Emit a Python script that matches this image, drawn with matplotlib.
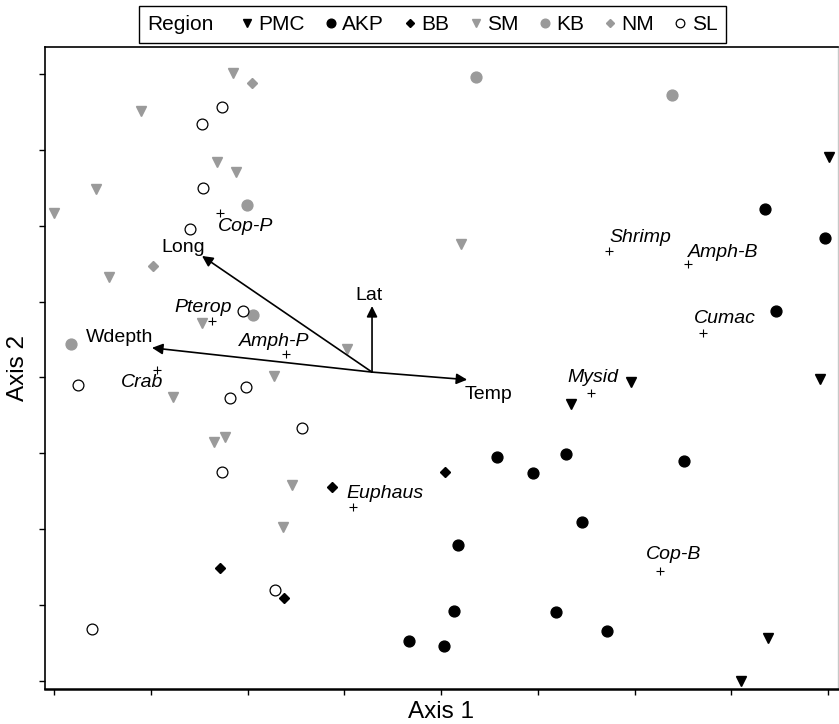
import matplotlib
matplotlib.use("Agg")
import matplotlib.pyplot as plt
from matplotlib.lines import Line2D
from matplotlib.offsetbox import HPacker

plt.rcParams['font.family'] = ['Liberation Sans', 'DejaVu Sans']

# site scores (axis units)
pmc_x = [8.01, 5.96, 5.34, 7.92, 7.38, 7.10]
pmc_y = [6.90, 3.94, 3.65, 3.98, 0.57, 0.00]
akp_x = [7.35, 7.97, 7.46, 4.58, 4.95, 5.29, 6.51, 5.46, 4.18, 4.13, 5.19, 5.72, 3.67, 4.03]
akp_y = [6.22, 5.84, 4.87, 2.95, 2.74, 2.99, 2.90, 2.09, 1.79, 0.92, 0.91, 0.66, 0.53, 0.46]
bb_x = [4.04, 2.87, 1.72, 2.38]
bb_y = [2.75, 2.56, 1.49, 1.09]
sm_x = [1.85, 0.90, 1.68, 1.88, 0.43, 0.00, 0.57, 1.53, 4.21, 3.03, 2.27, 1.23, 1.65, 1.77, 2.46, 2.37]
sm_y = [8.01, 7.51, 6.84, 6.71, 6.48, 6.17, 5.32, 4.72, 5.76, 4.37, 4.02, 3.74, 3.15, 3.21, 2.58, 2.03]
kb_x = [4.36, 6.39, 1.99, 2.06, 0.18]
kb_y = [7.96, 7.72, 6.27, 4.82, 4.44]
nm_x = [2.05, 1.02]
nm_y = [7.88, 5.47]
sl_x = [1.74, 1.53, 1.54, 1.41, 1.95, 0.25, 1.98, 1.82, 2.56, 1.74, 2.28, 0.39]
sl_y = [7.56, 7.34, 6.50, 5.96, 4.87, 3.90, 3.87, 3.73, 3.33, 2.75, 1.20, 0.69]

# species scores
species = ['Cop-P', 'Pterop', 'Amph-P', 'Crab', 'Euphaus', 'Shrimp', 'Amph-B', 'Cumac', 'Mysid', 'Cop-B']
species_x = [1.72, 1.63, 2.40, 1.06, 3.09, 5.74, 6.55, 6.71, 5.55, 6.26]
species_y = [6.17, 4.74, 4.31, 4.10, 2.29, 5.67, 5.49, 4.58, 3.79, 1.45]

# environmental vectors
origin = (3.287, 4.07)
env = ['Lat', 'Long', 'Wdepth', 'Temp']
env_x = [3.287, 1.53, 1.013, 4.27]
env_y = [4.94, 5.60, 4.39, 3.97]

grey = '#9a9a9a'

fig = plt.figure(figsize=(8.39, 7.24), dpi=100)
ax = fig.add_axes([45 / 839, 35 / 724, 793 / 839, 642 / 724])

groups = [
    ('PMC', pmc_x, pmc_y, dict(marker='v', color='black', ms=7.8)),
    ('AKP', akp_x, akp_y, dict(marker='o', color='black', ms=7.8)),
    ('BB', bb_x, bb_y, dict(marker='D', color='black', ms=5.5)),
    ('SM', sm_x, sm_y, dict(marker='v', color=grey, ms=7.8)),
    ('KB', kb_x, kb_y, dict(marker='o', color=grey, ms=7.8)),
    ('NM', nm_x, nm_y, dict(marker='D', color=grey, ms=5.5)),
    ('SL', sl_x, sl_y, dict(marker='o', mfc='white', mec='black', mew=0.9, color='black', ms=7.8)),
]
handles = []
for name, xs, ys, st in groups:
    ax.plot(xs, ys, ls='none', **st)
    lst = dict(st)
    lst['ms'] = st['ms'] * 0.8
    handles.append(Line2D([], [], ls='none', label=name, **lst))

# species
ax.plot(species_x, species_y, ls='none', marker='+', color='black', ms=6, mew=0.8)
# label offsets in pixels
sp_off = [(-2, -14, 'left'), (20, 14, 'right'), (-12, 12, 'center'), (-14, -13, 'center'),
          (-7, 14, 'left'), (0, 13, 'left'), (0, 12, 'left'), (-9, 15, 'left'),
          (-24, 16, 'left'), (-14, 16, 'left')]
for name, x, y, (dx, dy, ha) in zip(species, species_x, species_y, sp_off):
    ax.annotate(name, (x, y), xytext=(dx, dy), textcoords='offset pixels',
                ha=ha, va='center', fontsize=14, style='italic')

# vectors
env_off = [(-3, 11), (-19, 8), (-32, 10), (21, -15)]
for name, x, y, (dx, dy) in zip(env, env_x, env_y, env_off):
    ax.annotate('', xy=(x, y), xytext=origin,
                arrowprops=dict(arrowstyle='-|>', color='black', lw=1.2,
                                mutation_scale=16, shrinkA=0, shrinkB=0))
    ax.annotate(name, (x, y), xytext=(dx, dy), textcoords='offset pixels',
                ha='center', va='center', fontsize=14)

ax.set_xlim(-0.093, 8.103)
ax.set_ylim(-0.105, 8.353)
ax.set_xticks(range(9))
ax.set_yticks(range(9))
ax.set_xticklabels([])
ax.set_yticklabels([])
ax.tick_params(length=4, width=1)
for s in ['left', 'top']:
    ax.spines[s].set_linewidth(1.2)
ax.spines['bottom'].set_linewidth(1.8)
ax.spines['right'].set_color('#c8c8c8')
ax.spines['right'].set_linewidth(1)

ax.set_xlabel('Axis 1', fontsize=17.5, labelpad=1)
ax.set_ylabel('Axis 2', fontsize=17.5, labelpad=4)

leg = ax.legend(handles=handles, title='Region', ncol=7, loc='center',
                bbox_to_anchor=(432.5 / 839, 1 - 24.5 / 724), bbox_transform=fig.transFigure,
                fontsize=15, title_fontsize=15, frameon=True, fancybox=False,
                edgecolor='black', framealpha=1, handlelength=0.6, handletextpad=0.25,
                columnspacing=0.95, borderpad=0.42, borderaxespad=0)
leg.get_frame().set_linewidth(1)
# put the title on the same row as the entries
row = HPacker(pad=0, sep=19, children=[leg._legend_title_box, leg._legend_handle_box], align='center')
row.set_figure(fig)
leg._legend_box._children = [row]

fig.savefig('out.png', dpi=100)
